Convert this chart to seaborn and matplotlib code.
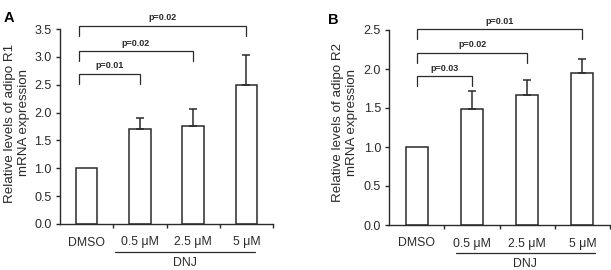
import numpy as np
import pandas as pd
import matplotlib
matplotlib.use("Agg")
import matplotlib.pyplot as plt
import matplotlib.transforms as mtransforms
import seaborn as sns

# ---- data ----
categories = ["DMSO", "0.5 \u03bcM", "2.5 \u03bcM", "5 \u03bcM"]
r1_values = [1.0, 1.70, 1.76, 2.50]
r1_errors = [0.0, 0.21, 0.30, 0.54]
r2_values = [1.0, 1.49, 1.665, 1.95]
r2_errors = [0.0, 0.23, 0.19, 0.18]
r1_pvalues = ["p=0.01", "p=0.02", "p=0.02"]
r2_pvalues = ["p=0.03", "p=0.02", "p=0.01"]
r1_bracket_y = [2.70, 3.10, 3.56]
r2_bracket_y = [1.91, 2.21, 2.51]
r1_yticks = [0.0, 0.5, 1.0, 1.5, 2.0, 2.5, 3.0, 3.5]
r2_yticks = [0.0, 0.5, 1.0, 1.5, 2.0, 2.5]
group_label = "DNJ"
r1_ylabel = "Relative levels of adipo R1\nmRNA expression"
r2_ylabel = "Relative levels of adipo R2\nmRNA expression"

sns.set_style("ticks")
plt.rcParams['font.family'] = ['Liberation Sans', 'DejaVu Sans']

ink = "#2a2a2a"
fig = plt.figure(figsize=(6.11, 2.70), dpi=100)
W, H = 611.0, 270.0
axA = fig.add_axes([60 / W, 1 - 224 / H, 213 / W, 195 / H])
axB = fig.add_axes([389.3 / W, 1 - 225 / H, 220.7 / W, 195 / H])


def panel(ax, values, errors, yticks, pvals, bracket_y, drop, left_off, line_x,
          letter, letter_xy, ylabel, ylabel_xy):
    df = pd.DataFrame({"cond": categories, "val": values})
    sns.barplot(data=df, x="cond", y="val", ax=ax, color="white", edgecolor=ink,
                linewidth=1.1, width=0.4, saturation=1, errorbar=None)
    x = np.arange(len(categories))
    ax.errorbar(x[1:], values[1:], yerr=[np.zeros(len(x) - 1), errors[1:]],
                fmt="none", ecolor=ink, elinewidth=1.1, capsize=2.6, capthick=1.1)
    ax.set_xlim(-0.5, 3.5)
    ax.set_ylim(0, yticks[-1])
    ax.set_yticks(yticks)
    ax.set_yticklabels([f"{t:.1f}" for t in yticks])
    ax.set_xlabel("")
    ax.set_ylabel("")
    sns.despine(ax=ax)
    for s in ("left", "bottom"):
        ax.spines[s].set_color(ink)
        ax.spines[s].set_linewidth(1.0)
    ax.tick_params(axis="y", length=3, width=1.0, color=ink, pad=3,
                   labelsize=9, labelcolor=ink)
    ax.tick_params(axis="x", which="major", length=0, pad=9,
                   labelsize=8.8, labelcolor=ink)
    ax.set_xticks([0.5, 1.5, 2.5, 3.5], minor=True)
    ax.tick_params(axis="x", which="minor", length=3, width=1.0, color=ink,
                   direction="out")

    # significance brackets
    for j, (p, yb) in enumerate(zip(pvals, bracket_y)):
        x0 = left_off
        x1 = j + 1
        ax.plot([x0, x0, x1, x1], [yb - drop, yb, yb, yb - drop], color=ink,
                lw=0.9, clip_on=False, solid_joinstyle="miter")
        ax.text((x0 + x1) / 2, yb + drop * 0.35, p, ha="center", va="bottom",
                fontsize=6.5, fontweight="bold", color=ink, clip_on=False)

    # group line
    tr = mtransforms.blended_transform_factory(ax.transData, ax.transAxes)
    ax.plot(line_x, [-0.143, -0.143], color=ink, lw=0.9, transform=tr, clip_on=False)
    ax.text(sum(line_x) / 2, -0.20, group_label, transform=tr, ha="center",
            va="center", fontsize=8.8, color=ink)

    fig.text(letter_xy[0] / W, 1 - letter_xy[1] / H, letter, ha="center",
             va="center", fontsize=10.5, fontweight="bold", color="black")
    fig.text(ylabel_xy[0] / W, 1 - ylabel_xy[1] / H, ylabel, rotation=90,
             ha="center", va="center", multialignment="center",
             fontsize=9.6, color=ink, linespacing=1.15)


panel(axA, r1_values, r1_errors, r1_yticks, r1_pvalues, r1_bracket_y, 0.18,
      -0.15, [0.54, 3.17], "A", (9, 18.5), r1_ylabel, (17, 123))
panel(axB, r2_values, r2_errors, r2_yticks, r2_pvalues, r2_bracket_y, 0.128,
      0.0, [0.70, 3.23], "B", (333, 20), r2_ylabel, (345, 123))

fig.savefig("out.png", dpi=100)
